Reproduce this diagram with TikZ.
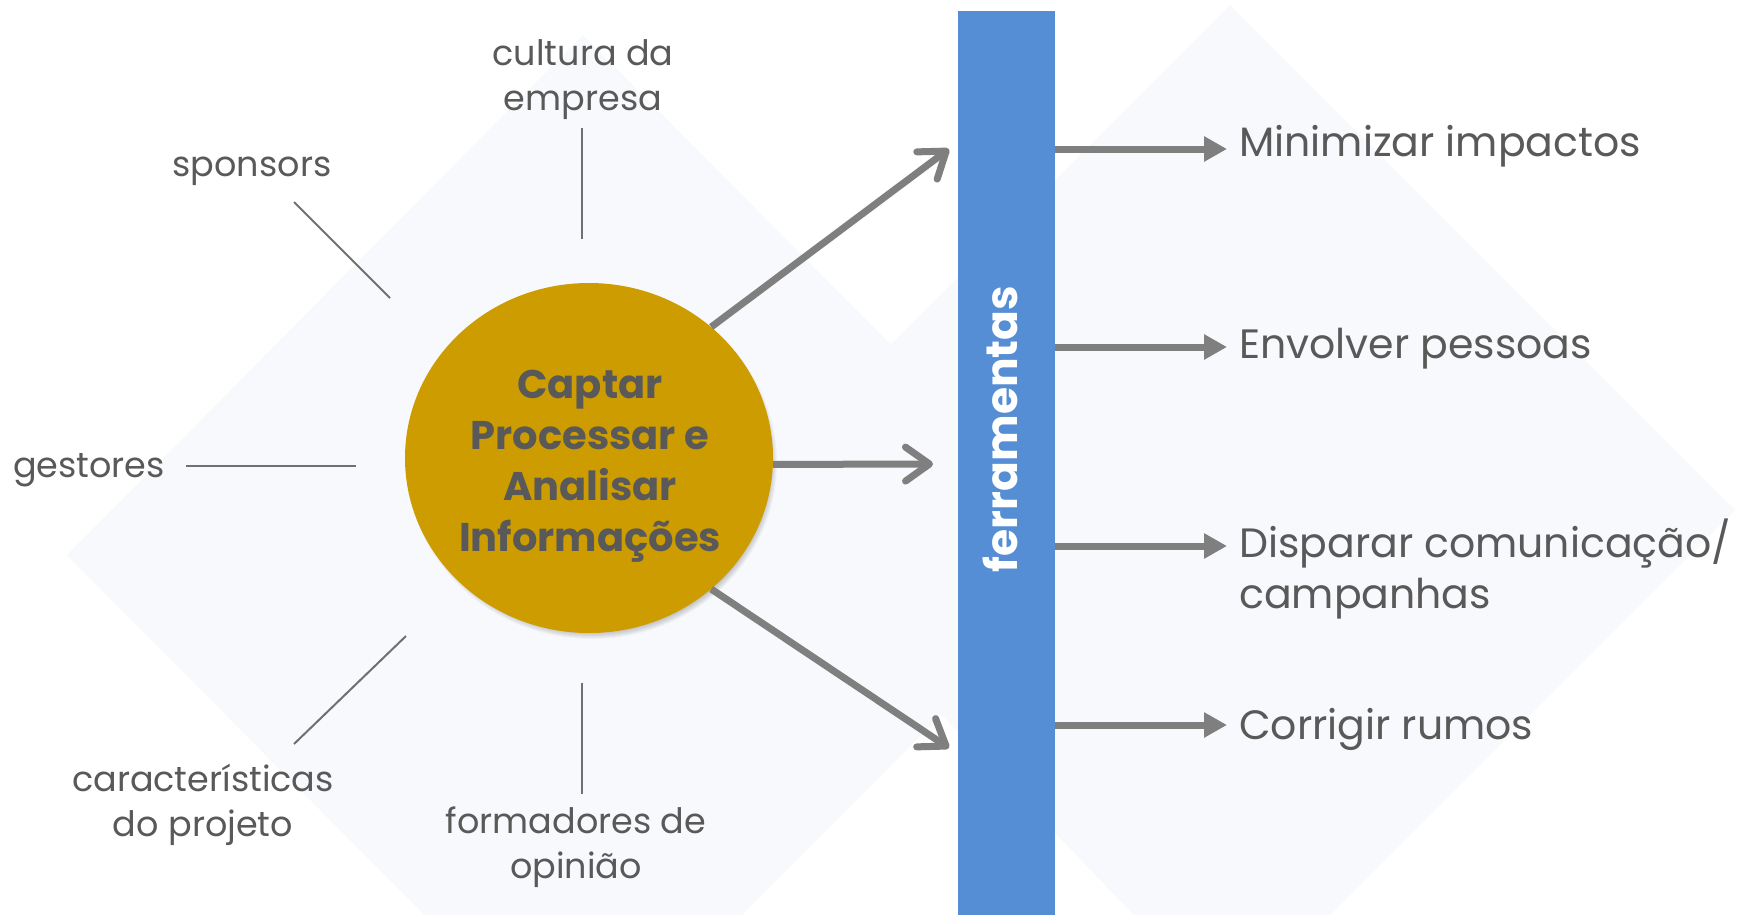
\documentclass[tikz,border=0pt]{standalone}
\usepackage{fontspec}
\setmainfont{Poppins}
\usetikzlibrary{arrows.meta,shapes.geometric}
\definecolor{txt}{HTML}{595959}
\definecolor{gold}{HTML}{CC9C00}
\definecolor{barblue}{HTML}{558ED5}
\definecolor{arrgray}{HTML}{7F7F7F}
\definecolor{linegray}{HTML}{707070}
\definecolor{bgdia}{HTML}{F8F9FC}
\begin{document}
\begin{tikzpicture}[x=1pt,y=-1pt,
  lbl/.style={text=txt, font=\fontsize{35}{45}\selectfont, align=center, inner sep=0pt, anchor=base},
  rlbl/.style={text=txt, font=\fontsize{41}{51}\selectfont, align=left, inner sep=0pt, anchor=base west},
  thinline/.style={draw=linegray, line width=2pt},
  bigarr/.style={draw=arrgray, line width=7pt, -{Straight Barb[length=24pt,width=34pt,round]}},
  tarr/.style={draw=arrgray, line width=7pt, -{Triangle[length=23pt,width=24pt]}},
]
\useasboundingbox (0,0) rectangle (1742,914);
\fill[white] (0,0) rectangle (1742,914);
% faint background diamonds
\fill[bgdia] (67,555) -- (583,35) -- (1100,555) -- (583,1075) -- cycle;
\fill[bgdia] (735,500) -- (1230,5) -- (1735,510) -- (1230,1015) -- cycle;

% shadow of the circle
\foreach \i in {0,...,9}
  \fill[black, opacity=0.03] (592,463) ellipse ({176+\i} and {167+\i});

% central circle
\node[ellipse, fill=gold, minimum width=368pt, minimum height=350pt, inner sep=0pt] (c) at (589,458) {};
\node[text=txt, align=center, inner sep=0pt, font=\bfseries\fontsize{40}{51}\selectfont] (ctext) at (590,466)
      {Captar\\Processar e\\Analisar\\Informações};

% blue bar
\node[fill=barblue, minimum width=97pt, minimum height=905pt, inner sep=0pt, anchor=north west] (bar) at (958,11) {};
\node[rotate=90, text=white, inner sep=0pt, font=\bfseries\fontsize{44}{44}\selectfont] (ft) at (1000,429) {ferramentas};

% arrows from circle to bar
\coordinate (t1) at (949,149);
\coordinate (t2) at (933,464);
\coordinate (t3) at (949,748);
\draw[bigarr] (c.47) -- (t1);
\draw[bigarr] (c.-2) -- (t2);
\draw[bigarr] (c.-47) -- (t3);

% right labels
\node[rlbl] (r1) at (1239,156) {Minimizar impactos};
\node[rlbl] (r2) at (1239,358) {Envolver pessoas};
\node[rlbl] (r3) at (1239,608) {Disparar comunicação/\\campanhas};
\node[rlbl] (r4) at (1239,739) {Corrigir rumos};
\coordinate (a1) at (1227,149);
\coordinate (a2) at (1227,347);
\coordinate (a3) at (1227,546);
\coordinate (a4) at (1227,725);
\draw[tarr] (bar.east |- a1) -- (a1);
\draw[tarr] (bar.east |- a2) -- (a2);
\draw[tarr] (bar.east |- a3) -- (a3);
\draw[tarr] (bar.east |- a4) -- (a4);

% left labels
\node[lbl] (l1) at (583,110) {cultura da\\empresa};
\node[lbl] (l2) at (252,176) {sponsors};
\node[lbl] (l3) at (89,477) {gestores};
\node[lbl] (l4) at (203,836) {características\\do projeto};
\node[lbl] (l5) at (576,878) {formadores de\\opinião};

% thin spokes
\coordinate (s1a) at (582,128); \coordinate (s1b) at (582,239);
\coordinate (s2a) at (294,202); \coordinate (s2b) at (390,298);
\coordinate (s3a) at (186,466); \coordinate (s3b) at (356,466);
\coordinate (s4a) at (294,744); \coordinate (s4b) at (406,636);
\coordinate (s5a) at (582,683); \coordinate (s5b) at (582,794);
\draw[thinline] (s1a) -- (s1b);
\draw[thinline] (s2a) -- (s2b);
\draw[thinline] (s3a) -- (s3b);
\draw[thinline] (s4a) -- (s4b);
\draw[thinline] (s5a) -- (s5b);
\end{tikzpicture}
\end{document}
